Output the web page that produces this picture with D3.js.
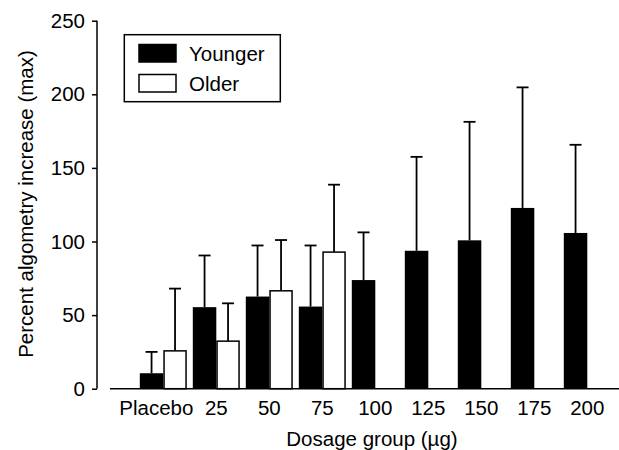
<!DOCTYPE html>
<html>
<head>
<meta charset="utf-8">
<script src="https://cdnjs.cloudflare.com/ajax/libs/d3/7.8.5/d3.min.js"></script>
<style>
  body { margin: 0; background: #fff; }
  svg text { font-family: "Liberation Sans", Arial, Helvetica, sans-serif; font-size: 20.5px; fill: #000; }
</style>
</head>
<body>
<svg id="chart" width="619" height="450"></svg>
<script>
// Data
var groups = ['Placebo', '25', '50', '75', '100', '125', '150', '175', '200'];
var series = ['Younger', 'Older'];
// mean percent increase, and standard deviation (drawn upward only)
var younger   = [10.5, 55.4, 62.6, 55.8, 73.8, 93.7, 100.8, 122.8, 105.8];
var youngerSD = [14.5, 35.1, 34.7, 41.5, 32.4, 63.8, 80.5, 81.9, 59.9];
var older     = [25.7, 32.3, 66.5, 92.8, null, null, null, null, null];
var olderSD   = [42.3, 25.7, 34.5, 45.8, null, null, null, null, null];
var yTicks = [0, 50, 100, 150, 200, 250];

var svg = d3.select('#chart');

// Scales
var x = d3.scaleBand()
  .domain(groups)
  .range([136.8, 613.8])
  .paddingInner(6 / 53)
  .paddingOuter(3 / 53);

var xSub = d3.scaleBand()
  .domain(series)
  .range([0, x.bandwidth()]);

var y = d3.scaleLinear()
  .domain([0, 250])
  .range([388.7, 20.7]);

// Flatten to rows so each bar comes from the arrays
var rows = [];
groups.forEach(function (g, i) {
  rows.push({group: g, series: 'Younger', value: younger[i], sd: youngerSD[i]});
  if (older[i] != null) rows.push({group: g, series: 'Older', value: older[i], sd: olderSD[i]});
});

// Y axis (detached from the baseline)
var yAxis = svg.append('g')
  .attr('transform', 'translate(97,0)')
  .call(d3.axisLeft(y).tickValues(yTicks).tickSize(5).tickPadding(7));
yAxis.select('.domain').attr('stroke', '#000').attr('stroke-width', 1.5)
  .attr('d', 'M0,' + y(250) + 'V' + y(0));
yAxis.selectAll('.tick line').attr('stroke', '#000').attr('stroke-width', 1.5);
yAxis.selectAll('.tick text').style('font-size', '20.5px').attr('fill', '#000');

// Baseline
svg.append('line')
  .attr('x1', 110).attr('x2', 619)
  .attr('y1', y(0)).attr('y2', y(0))
  .attr('stroke', '#000').attr('stroke-width', 1.5);

// Error bars (behind bars, upward only)
var err = svg.append('g').selectAll('g.err')
  .data(rows)
  .enter().append('g')
  .attr('class', 'err')
  .attr('transform', function (d) {
    return 'translate(' + (x(d.group) + xSub(d.series) + xSub.bandwidth() / 2) + ',0)';
  });
err.append('line')
  .attr('x1', 0).attr('x2', 0)
  .attr('y1', function (d) { return y(d.value); })
  .attr('y2', function (d) { return y(d.value + d.sd); })
  .attr('stroke', '#000').attr('stroke-width', 1.8);
err.append('line')
  .attr('x1', -6).attr('x2', 6)
  .attr('y1', function (d) { return y(d.value + d.sd); })
  .attr('y2', function (d) { return y(d.value + d.sd); })
  .attr('stroke', '#000').attr('stroke-width', 1.8);

// Bars
svg.append('g').selectAll('rect')
  .data(rows)
  .enter().append('rect')
  .attr('x', function (d) { return x(d.group) + xSub(d.series) + (d.series === 'Older' ? 0.75 : 0); })
  .attr('y', function (d) { return y(d.value); })
  .attr('width', function (d) { return xSub.bandwidth() - (d.series === 'Older' ? 1.5 : 0); })
  .attr('height', function (d) { return y(0) - y(d.value); })
  .attr('fill', function (d) { return d.series === 'Younger' ? '#000' : '#fff'; })
  .attr('stroke', '#000')
  .attr('stroke-width', function (d) { return d.series === 'Older' ? 1.5 : 0; });

// X tick labels
svg.append('g').selectAll('text')
  .data(groups)
  .enter().append('text')
  .attr('x', function (d) { return x(d) + x.bandwidth() / 2 - (d === 'Placebo' ? 7 : 0); })
  .attr('y', 415)
  .attr('text-anchor', 'middle')
  .text(function (d) { return d; });

// Axis titles
svg.append('text')
  .attr('x', 372).attr('y', 446)
  .attr('text-anchor', 'middle')
  .text('Dosage group (\u00b5g)');

svg.append('text')
  .attr('transform', 'translate(33,204) rotate(-90)')
  .attr('text-anchor', 'middle')
  .text('Percent algometry increase (max)');

// Legend
var legend = svg.append('g');
legend.append('rect')
  .attr('x', 124.3).attr('y', 34.7)
  .attr('width', 156).attr('height', 67)
  .attr('fill', '#fff').attr('stroke', '#000').attr('stroke-width', 1.5);
var li = legend.selectAll('g.item')
  .data(series)
  .enter().append('g')
  .attr('class', 'item')
  .attr('transform', function (d, i) { return 'translate(0,' + (i * 30) + ')'; });
li.append('rect')
  .attr('x', 139).attr('y', 44.5)
  .attr('width', 37).attr('height', 17.5)
  .attr('fill', function (d) { return d === 'Younger' ? '#000' : '#fff'; })
  .attr('stroke', '#000').attr('stroke-width', 1.5);
li.append('text')
  .attr('x', 189).attr('y', 60.5)
  .text(function (d) { return d; });
</script>
</body>
</html>
